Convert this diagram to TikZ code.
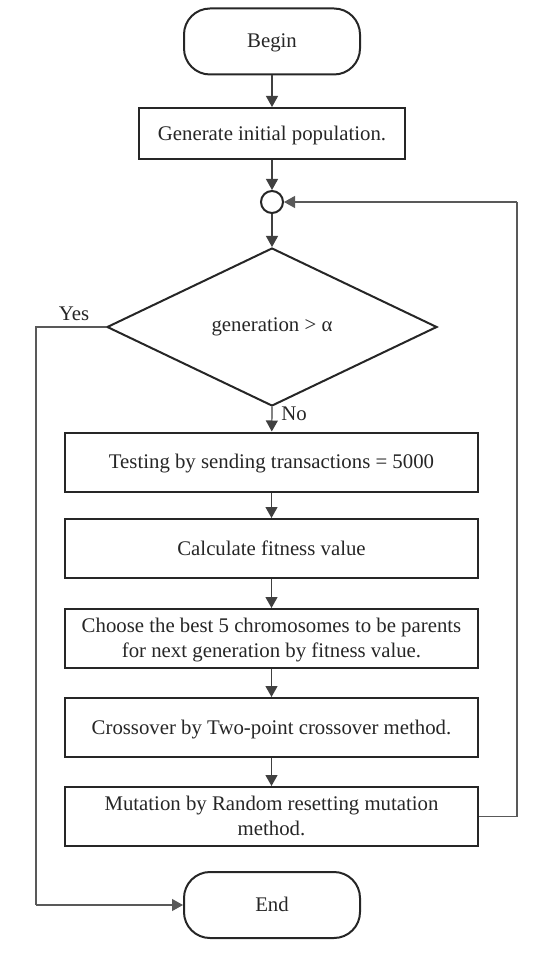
\documentclass[tikz,border=0pt]{standalone}
\usepackage{fontspec}
\setmainfont{Liberation Serif}
\usetikzlibrary{shapes.geometric,arrows.meta}
\begin{document}
\begin{tikzpicture}[x=0.5pt,y=-0.5pt,
  txt/.style={font=\fontsize{10.4}{12.5}\selectfont,text=black!85},
  box/.style={txt,draw=black!85,line width=1pt,rectangle,minimum width=206.5pt,minimum height=29.5pt,align=center,inner sep=0pt,text depth=0.6pt},
  term/.style={txt,draw=black!85,line width=1pt,rectangle,rounded corners=13pt,minimum width=88pt,minimum height=33pt,inner sep=0pt,text depth=0.6pt},
  conn/.style={draw=black!75,line width=0.6pt,-{Triangle[length=5.5pt,width=6pt]}},
  line/.style={draw=black!65,line width=0.6pt}]
\useasboundingbox (0,0) rectangle (560,962);
\node[term] (begin) at (272,41.5) {Begin};
\node[box,minimum width=133pt,minimum height=25.5pt] (gen) at (272,133.5) {Generate initial population.};
\node[circle,draw=black!85,line width=1pt,minimum size=11pt,inner sep=0pt] (join) at (272,202) {};
\node[txt,diamond,draw=black!85,line width=1pt,minimum width=165pt,minimum height=79pt,inner sep=0pt] (dec) at (272,327) {generation > α};
\node[box] (test) at (271.5,462) {Testing by sending transactions = 5000};
\node[box] (calc) at (271.5,548.5) {Calculate fitness value};
\node[box] (choose) at (271.5,638.5) {Choose the best 5 chromosomes to be parents\\for next generation by fitness value.};
\node[box] (cross) at (271.5,727.5) {Crossover by Two-point crossover method.};
\node[box] (mut) at (271.5,816.5) {Mutation by Random resetting mutation\\method.};
\node[term] (end) at (272,905) {End};
\coordinate (yl) at (36,327);
\coordinate (yb) at (36,905);
\coordinate (lr) at (517,816.5);
\coordinate (lt) at (517,202);
\draw[conn] (begin) -- (gen);
\draw[conn] (gen) -- (join);
\draw[conn] (join) -- (dec.north);
\draw[conn] (dec.south) -- (test);
\draw[conn] (test) -- (calc);
\draw[conn] (calc) -- (choose);
\draw[conn] (choose) -- (cross);
\draw[conn] (cross) -- (mut);
\draw[line] (dec.west) -- (yl) -- (yb);
\draw[conn,draw=black!65] (yb) -- (end.west);
\draw[line] (mut.east) -- (lr) -- (lt);
\draw[conn,draw=black!65] (lt) -- (join.east);
\node[txt] (yes) at (74,314) {Yes};
\node[txt] (no) at (294,414) {No};
\end{tikzpicture}
\end{document}
